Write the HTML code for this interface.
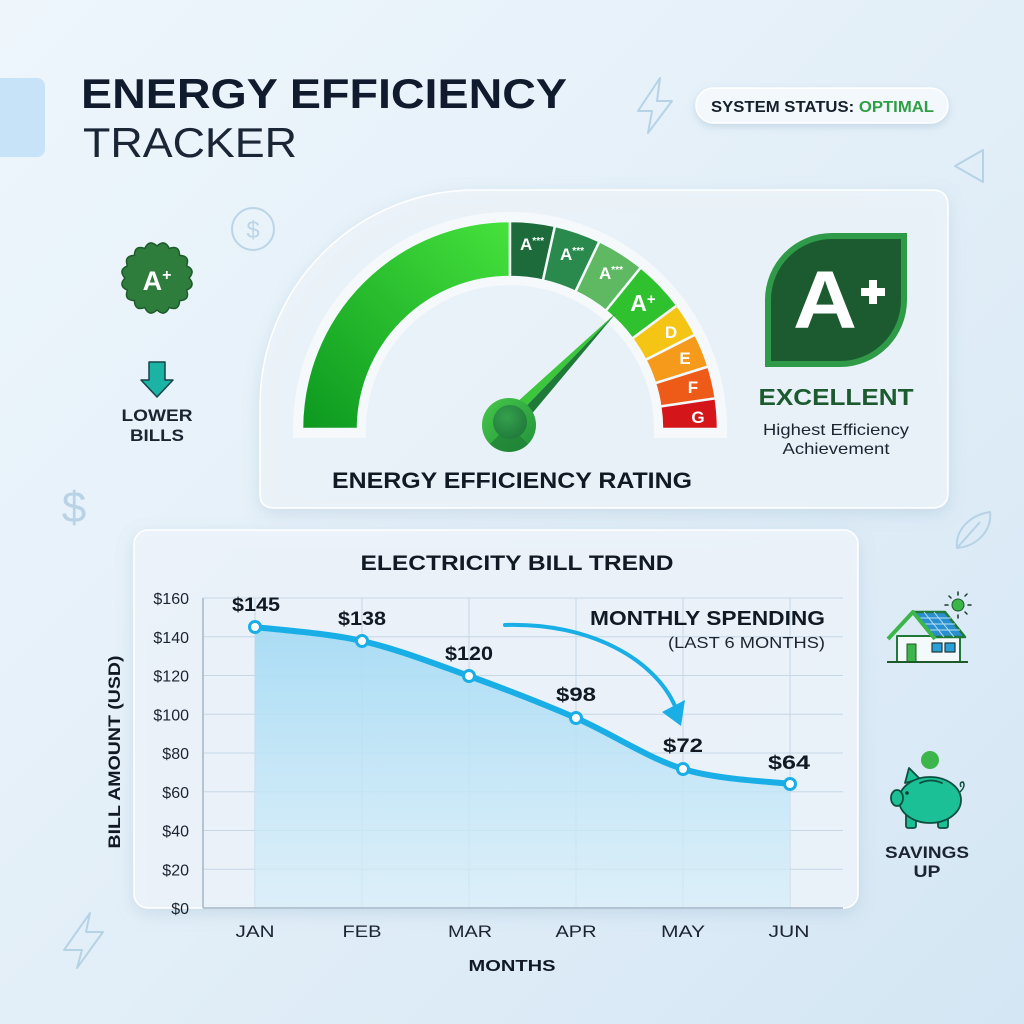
<!DOCTYPE html>
<html><head><meta charset="utf-8"><style>
html,body{margin:0;padding:0;width:1024px;height:1024px;overflow:hidden;background:#e4f0f9;}
svg{display:block}
text{font-family:"Liberation Sans",sans-serif;}
</style></head><body>
<svg width="1024" height="1024" viewBox="0 0 1024 1024" xmlns="http://www.w3.org/2000/svg">
<defs>
 <linearGradient id="bg" x1="0" y1="0" x2="1" y2="1">
  <stop offset="0" stop-color="#eef6fc"/>
  <stop offset="0.5" stop-color="#e3eff8"/>
  <stop offset="1" stop-color="#d4e6f4"/>
 </linearGradient>
 <linearGradient id="bigg" x1="510" y1="221" x2="302" y2="429" gradientUnits="userSpaceOnUse">
  <stop offset="0" stop-color="#46e23c"/>
  <stop offset="1" stop-color="#0c9820"/>
 </linearGradient>
 <linearGradient id="area" x1="0" y1="0" x2="0" y2="1">
  <stop offset="0" stop-color="#a6dbf4" stop-opacity="0.95"/>
  <stop offset="1" stop-color="#d6eef9" stop-opacity="0.7"/>
 </linearGradient>
 <linearGradient id="hub" x1="0" y1="0" x2="1" y2="1">
  <stop offset="0" stop-color="#46c84a"/>
  <stop offset="1" stop-color="#22913a"/>
 </linearGradient>
 <radialGradient id="hubin" cx="0.4" cy="0.35" r="0.7">
  <stop offset="0" stop-color="#35a04c"/>
  <stop offset="1" stop-color="#1f7a3a"/>
 </radialGradient>
 <filter id="sh" x="-10%" y="-10%" width="120%" height="130%">
  <feDropShadow dx="0" dy="5" stdDeviation="8" flood-color="#7c9fbd" flood-opacity="0.28"/>
 </filter>
 <filter id="sh2" x="-20%" y="-40%" width="140%" height="180%">
  <feDropShadow dx="0" dy="3" stdDeviation="4" flood-color="#7c9fbd" flood-opacity="0.3"/>
 </filter>
</defs>
<rect width="1024" height="1024" fill="url(#bg)"/>

<!-- decorative left block -->
<rect x="-10" y="78" width="55" height="79" rx="8" fill="#c6e3f7"/>

<!-- Title -->
<text x="81" y="108" font-size="42" font-weight="bold" fill="#101c2e" textLength="486" lengthAdjust="spacingAndGlyphs">ENERGY EFFICIENCY</text>
<text x="83" y="157" font-size="42" fill="#1a2636" textLength="214" lengthAdjust="spacingAndGlyphs">TRACKER</text>

<!-- status pill -->
<rect x="696" y="88" width="252" height="35" rx="17.5" fill="#f2f8fc" stroke="#ffffff" stroke-width="1.5" filter="url(#sh2)"/>
<text x="711" y="112" font-size="16" font-weight="bold" fill="#15202c" textLength="223" lengthAdjust="spacingAndGlyphs">SYSTEM STATUS: <tspan fill="#2f9e45">OPTIMAL</tspan></text>

<!-- decorative outline icons -->
<path d="M660,78 L638,111 L652,111 L648,133 L672,101 L657,101 Z" fill="none" stroke="#b6d3e6" stroke-width="2" stroke-linejoin="round"/>
<path d="M983,150 L955,166 L983,182 Z" fill="none" stroke="#b6d3e6" stroke-width="2" stroke-linejoin="round"/>
<circle cx="253" cy="229" r="21" fill="none" stroke="#bcd5e6" stroke-width="2"/>
<text x="253" y="238" font-size="24" fill="#bcd5e6" text-anchor="middle">$</text>
<text x="74" y="522" font-size="44" fill="#b8d3e6" text-anchor="middle">$</text>
<path d="M90,913 L64,950 L82,950 L77,968 L103,932 L86,932 Z" fill="none" stroke="#b6d3e6" stroke-width="2" stroke-linejoin="round"/>
<path d="M957,548 C955,530 970,515 990,512 C992,530 978,546 957,548 Z M957,548 L980,522" fill="none" stroke="#b6d3e6" stroke-width="2" stroke-linejoin="round"/>

<!-- left icons: seal -->
<path d="M189,278 Q196.2,285.8 186.6,290.2 Q190.3,300.2 179.6,300.6 Q179.2,311.3 169.2,307.6 Q164.8,317.2 157,310 Q149.2,317.2 144.8,307.6 Q134.8,311.3 134.4,300.6 Q123.7,300.2 127.4,290.2 Q117.8,285.8 125,278 Q117.8,270.2 127.4,265.8 Q123.7,255.8 134.4,255.4 Q134.8,244.7 144.8,248.4 Q149.2,238.8 157,246 Q164.8,238.8 169.2,248.4 Q179.2,244.7 179.6,255.4 Q190.3,255.8 186.6,265.8 Q196.2,270.2 189,278 Z" fill="#2f7d3d" stroke="#1d5a2a" stroke-width="1.5"/>
<text x="157" y="290" font-size="27" font-weight="bold" fill="#ffffff" text-anchor="middle">A<tspan font-size="16" dy="-10">+</tspan></text>

<!-- down arrow -->
<path d="M149,362 L165,362 L165,380 L173,380 L157,397 L141,380 L149,380 Z" fill="#1bb3a3" stroke="#17424a" stroke-width="1.5" stroke-linejoin="round"/>
<text x="157" y="421" font-size="17" font-weight="bold" fill="#1b2430" text-anchor="middle" textLength="71" lengthAdjust="spacingAndGlyphs">LOWER</text>
<text x="157" y="441" font-size="17" font-weight="bold" fill="#1b2430" text-anchor="middle" textLength="54" lengthAdjust="spacingAndGlyphs">BILLS</text>

<!-- Gauge card -->
<path d="M274,508 Q260,508 260,494 L260,405 A215 215 0 0 1 475,190 L932,190 Q948,190 948,206 L948,492 Q948,508 932,508 Z" fill="#edf4fa" fill-opacity="0.85" stroke="#ffffff" stroke-width="1.5" filter="url(#sh)"/>
<!-- gauge backing band -->
<path d="M293,438 L293,429 A217 217 0 0 1 727,429 L727,438 L654,438 L654,429 A144 144 0 0 0 366,429 L366,438 Z" fill="#ffffff" fill-opacity="0.55"/>

<!-- gauge segments -->
<g stroke="#f4f9fc" stroke-width="2.5" stroke-linejoin="miter">
<path d="M302,429 A208 208 0 0 1 510,221 L510,277 A152 152 0 0 0 358,429 Z" fill="url(#bigg)"/>
<path d="M510,221 A208 208 0 0 1 555,225.9 L542.9,280.6 A152 152 0 0 0 510,277 Z" fill="#1d6b3b"/>
<path d="M555,225.9 A208 208 0 0 1 599.5,241.3 L575.4,291.8 A152 152 0 0 0 542.9,280.6 Z" fill="#2a8a4e"/>
<path d="M599.5,241.3 A208 208 0 0 1 640.9,267.4 L605.7,310.9 A152 152 0 0 0 575.4,291.8 Z" fill="#5fb862"/>
<path d="M640.9,267.4 A208 208 0 0 1 677.2,305.3 L632.2,338.6 A152 152 0 0 0 605.7,310.9 Z" fill="#30c22e"/>
<path d="M677.2,305.3 A208 208 0 0 1 695.3,334.6 L645.4,360 A152 152 0 0 0 632.2,338.6 Z" fill="#f5c516"/>
<path d="M695.3,334.6 A208 208 0 0 1 708.4,366.5 L655,383.3 A152 152 0 0 0 645.4,360 Z" fill="#f59a1a"/>
<path d="M708.4,366.5 A208 208 0 0 1 715.7,398.3 L660.3,406.5 A152 152 0 0 0 655,383.3 Z" fill="#ee5a18"/>
<path d="M715.7,398.3 A208 208 0 0 1 718,429 L662,429 A152 152 0 0 0 660.3,406.5 Z" fill="#d4161a"/>
</g>
<g font-weight="bold" fill="#ffffff" text-anchor="middle">
<text x="532" y="250" font-size="17">A<tspan font-size="10" dy="-6">***</tspan></text>
<text x="572" y="260" font-size="17">A<tspan font-size="10" dy="-6">***</tspan></text>
<text x="611" y="279" font-size="17">A<tspan font-size="10" dy="-6">***</tspan></text>
<text x="643" y="311" font-size="23">A<tspan font-size="15" dy="-7">+</tspan></text>
<text x="671" y="338" font-size="17">D</text>
<text x="685" y="364" font-size="17">E</text>
<text x="693" y="393" font-size="17">F</text>
<text x="698" y="423" font-size="17">G</text>
</g>

<!-- needle -->
<path d="M617,312 L501,416.5 L509,424 Z" fill="#3cc63c"/>
<path d="M617,312 L509,424 L517,431.5 Z" fill="#1f7a3a"/>
<circle cx="509" cy="425" r="27" fill="url(#hub)"/>
<path d="M528,444 A27 27 0 0 1 490,444 L500,434 A13 13 0 0 0 518,434 Z" fill="#1e7e36" opacity="0.7"/>
<circle cx="510" cy="422" r="17" fill="url(#hubin)"/>

<text x="512" y="488" font-size="22" font-weight="bold" fill="#111a24" text-anchor="middle" textLength="360" lengthAdjust="spacingAndGlyphs">ENERGY EFFICIENCY RATING</text>

<!-- A+ leaf badge -->
<path d="M832,233 L907,233 L907,300 A67 67 0 0 1 840,367 L765,367 L765,300 A67 67 0 0 1 832,233 Z" fill="#2f9a48"/>
<path d="M833,239 L901,239 L901,300 A61 61 0 0 1 840,361 L771,361 L771,300 A61 61 0 0 1 833,239 Z" fill="#1c5a30"/>
<text x="825" y="328" font-size="82" font-weight="bold" fill="#ffffff" text-anchor="middle" textLength="64" lengthAdjust="spacingAndGlyphs">A</text>
<path d="M869,280 h8 v8 h8 v8 h-8 v8 h-8 v-8 h-8 v-8 h8 Z" fill="#ffffff"/>
<text x="836" y="405" font-size="23" font-weight="bold" fill="#1c5a30" text-anchor="middle" textLength="155" lengthAdjust="spacingAndGlyphs">EXCELLENT</text>
<text x="836" y="435" font-size="16" fill="#1b2430" text-anchor="middle" textLength="146" lengthAdjust="spacingAndGlyphs">Highest Efficiency</text>
<text x="836" y="454" font-size="16" fill="#1b2430" text-anchor="middle" textLength="107" lengthAdjust="spacingAndGlyphs">Achievement</text>

<!-- Chart card -->
<rect x="134" y="530" width="724" height="378" rx="14" fill="#eef5fb" fill-opacity="0.85" stroke="#ffffff" stroke-width="1.5" filter="url(#sh)"/>
<text x="517" y="570" font-size="21" font-weight="bold" fill="#111a24" text-anchor="middle" textLength="313" lengthAdjust="spacingAndGlyphs">ELECTRICITY BILL TREND</text>

<!-- grid -->
<g stroke="#c6d8e6" stroke-width="1">
<line x1="203" y1="598" x2="843" y2="598"/>
<line x1="203" y1="636.75" x2="843" y2="636.75"/>
<line x1="203" y1="675.5" x2="843" y2="675.5"/>
<line x1="203" y1="714.25" x2="843" y2="714.25"/>
<line x1="203" y1="753" x2="843" y2="753"/>
<line x1="203" y1="791.75" x2="843" y2="791.75"/>
<line x1="203" y1="830.5" x2="843" y2="830.5"/>
<line x1="203" y1="869.25" x2="843" y2="869.25"/>
<line x1="255" y1="598" x2="255" y2="908"/>
<line x1="362" y1="598" x2="362" y2="908"/>
<line x1="469" y1="598" x2="469" y2="908"/>
<line x1="576" y1="598" x2="576" y2="908"/>
<line x1="683" y1="598" x2="683" y2="908"/>
<line x1="790" y1="598" x2="790" y2="908"/>
</g>
<!-- area -->
<path d="M255,627 C272.8,629.3 326.3,632.8 362,641 C397.7,649.2 433.3,663.2 469,676 C504.7,688.8 540.3,702.5 576,718 C611.7,733.5 647.3,758 683,769 C718.7,780 772.2,781.5 790,784 L790,908 L255,908 Z" fill="url(#area)"/>
<g stroke="#a3b6c6" stroke-width="1.5">
<line x1="203" y1="598" x2="203" y2="908"/>
<line x1="203" y1="908" x2="843" y2="908"/>
</g>
<!-- line -->
<path d="M255,627 C272.8,629.3 326.3,632.8 362,641 C397.7,649.2 433.3,663.2 469,676 C504.7,688.8 540.3,702.5 576,718 C611.7,733.5 647.3,758 683,769 C718.7,780 772.2,781.5 790,784" fill="none" stroke="#1aaee6" stroke-width="6" stroke-linecap="round" stroke-linejoin="round"/>
<g fill="#ffffff" stroke="#1aaee6" stroke-width="3">
<circle cx="255" cy="627" r="5.5"/>
<circle cx="362" cy="641" r="5.5"/>
<circle cx="469" cy="676" r="5.5"/>
<circle cx="576" cy="718" r="5.5"/>
<circle cx="683" cy="769" r="5.5"/>
<circle cx="790" cy="784" r="5.5"/>
</g>
<!-- data labels -->
<g font-size="19" font-weight="bold" fill="#111a24" text-anchor="middle">
<text x="256" y="611" textLength="48" lengthAdjust="spacingAndGlyphs">$145</text>
<text x="362" y="625" textLength="48" lengthAdjust="spacingAndGlyphs">$138</text>
<text x="469" y="660" textLength="48" lengthAdjust="spacingAndGlyphs">$120</text>
<text x="576" y="701" textLength="40" lengthAdjust="spacingAndGlyphs">$98</text>
<text x="683" y="752" textLength="40" lengthAdjust="spacingAndGlyphs">$72</text>
<text x="789" y="769" textLength="42" lengthAdjust="spacingAndGlyphs">$64</text>
</g>
<!-- annotation -->
<path d="M505,625 C590,622 655,660 675,706" fill="none" stroke="#1aaee6" stroke-width="4" stroke-linecap="round"/>
<path d="M681,726 L662,712 L685,700 Z" fill="#1aaee6"/>
<text x="825" y="625" font-size="20" font-weight="bold" fill="#111a24" text-anchor="end" textLength="235" lengthAdjust="spacingAndGlyphs">MONTHLY SPENDING</text>
<text x="825" y="648" font-size="16" fill="#1b2430" text-anchor="end" textLength="157" lengthAdjust="spacingAndGlyphs">(LAST 6 MONTHS)</text>

<!-- y ticks -->
<g font-size="16" fill="#1b2430" text-anchor="end">
<text x="189" y="604">$160</text>
<text x="189" y="642.75">$140</text>
<text x="189" y="681.5">$120</text>
<text x="189" y="720.25">$100</text>
<text x="189" y="759">$80</text>
<text x="189" y="797.75">$60</text>
<text x="189" y="836.5">$40</text>
<text x="189" y="875.25">$20</text>
<text x="189" y="914">$0</text>
</g>
<text transform="translate(120,752) rotate(-90)" font-size="17" font-weight="bold" fill="#111a24" text-anchor="middle" textLength="193" lengthAdjust="spacingAndGlyphs">BILL AMOUNT (USD)</text>
<!-- x ticks -->
<g font-size="17" fill="#1b2430" text-anchor="middle">
<text x="255" y="937" textLength="39" lengthAdjust="spacingAndGlyphs">JAN</text>
<text x="362" y="937" textLength="39" lengthAdjust="spacingAndGlyphs">FEB</text>
<text x="470" y="937" textLength="44" lengthAdjust="spacingAndGlyphs">MAR</text>
<text x="576" y="937" textLength="41" lengthAdjust="spacingAndGlyphs">APR</text>
<text x="683" y="937" textLength="44" lengthAdjust="spacingAndGlyphs">MAY</text>
<text x="789" y="937" textLength="41" lengthAdjust="spacingAndGlyphs">JUN</text>
</g>
<text x="512" y="971" font-size="16" font-weight="bold" fill="#111a24" text-anchor="middle" textLength="87" lengthAdjust="spacingAndGlyphs">MONTHS</text>

<!-- house icon -->
<g stroke-linejoin="round">
<circle cx="958" cy="605" r="6" fill="#3cb54a" stroke="#1d5a2a" stroke-width="1"/>
<g stroke="#1d3a2a" stroke-width="1.5" stroke-linecap="round">
<line x1="958" y1="592" x2="958" y2="595"/><line x1="958" y1="615" x2="958" y2="618"/>
<line x1="945" y1="605" x2="948" y2="605"/><line x1="968" y1="605" x2="971" y2="605"/>
<line x1="949" y1="596" x2="951" y2="598"/><line x1="965" y1="596" x2="967" y2="594"/>
<line x1="965" y1="612" x2="967" y2="614"/>
</g>
<rect x="897" y="636" width="63" height="26" fill="#f4f9fc" stroke="#1f7a3a" stroke-width="2"/>
<path d="M913,612 L945,612 L965,637 L933,637 Z" fill="#2a8fd0" stroke="#1f7a3a" stroke-width="2.5"/>
<path d="M918,618 L951,618 M922,624 L955,624 M926,630 L960,630 M924,612 L944,637 M934,612 L954,637" stroke="#b8e0f4" stroke-width="1"/>
<path d="M888,639 L913,612 L935,639" fill="none" stroke="#3cb54a" stroke-width="4"/>
<rect x="907" y="644" width="9" height="18" fill="#3cb54a" stroke="#1f5a2a" stroke-width="1"/>
<rect x="932" y="643" width="10" height="9" fill="#2aa0d8" stroke="#1f3a3a" stroke-width="1.2"/>
<rect x="945" y="643" width="10" height="9" fill="#2aa0d8" stroke="#1f3a3a" stroke-width="1.2"/>
<line x1="887" y1="662" x2="968" y2="662" stroke="#1f5a2a" stroke-width="2"/>
</g>

<!-- piggy -->
<circle cx="930" cy="760" r="9" fill="#3cb54a"/>
<g stroke="#0d4f3f" stroke-width="1.8" stroke-linejoin="round" fill="#1cc096">
<rect x="906" y="812" width="10" height="16" rx="2"/>
<rect x="938" y="812" width="10" height="16" rx="2"/>
<path d="M905,783 L909,768 L920,779 Z"/>
<ellipse cx="930" cy="800" rx="31" ry="23"/>
<ellipse cx="897" cy="798" rx="6" ry="8"/>
</g>
<circle cx="907" cy="793" r="1.8" fill="#0d3f33"/>
<path d="M920,783 Q931,778 942,783" fill="none" stroke="#0d4f3f" stroke-width="1.8" stroke-linecap="round"/>
<path d="M960,792 Q966,786 963,782 Q959,782 961,787" fill="none" stroke="#0d4f3f" stroke-width="1.5"/>
<text x="927" y="858" font-size="17" font-weight="bold" fill="#1b2430" text-anchor="middle" textLength="84" lengthAdjust="spacingAndGlyphs">SAVINGS</text>
<text x="927" y="877" font-size="17" font-weight="bold" fill="#1b2430" text-anchor="middle" textLength="27" lengthAdjust="spacingAndGlyphs">UP</text>
</svg>
</body></html>
